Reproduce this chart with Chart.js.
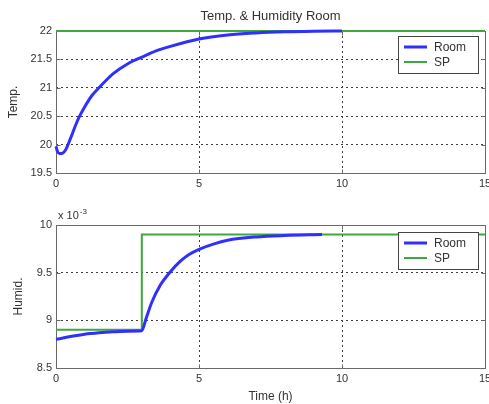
<!DOCTYPE html>
<html>
<head>
<meta charset="utf-8">
<script src="https://cdn.jsdelivr.net/npm/chart.js@4/dist/chart.umd.min.js"></script>
<style>
  html, body { margin: 0; padding: 0; background: #fff; overflow: hidden; }
  canvas { display: block; }
</style>
</head>
<body>
<canvas id="temp" width="491" height="200"></canvas>
<canvas id="humid" width="491" height="204"></canvas>
<script>
// Time axis (hours)
const xTicks = [0, 5, 10, 15];

// Room temperature response
const tempTime = [0, 0.05, 0.12, 0.2, 0.28, 0.36, 0.5, 0.75, 1.0, 1.25, 1.5, 2.0, 2.5, 3.0, 3.5, 4.0, 5.0, 6.0, 7.0, 8.0, 9.0, 10.0];
const tempRoom = [19.97, 19.88, 19.845, 19.845, 19.87, 19.93, 20.1, 20.42, 20.66, 20.86, 21.0, 21.25, 21.42, 21.54, 21.65, 21.73, 21.86, 21.93, 21.965, 21.985, 21.995, 22.0];
// Temperature set point
const tempSPTime = [0, 15];
const tempSP = [22, 22];
const tempYTicks = [19.5, 20, 20.5, 21, 21.5, 22];

// Room humidity response (x 10^-3)
const humTime = [0, 0.5, 1.0, 1.5, 2.0, 2.5, 3.0, 3.15, 3.35, 3.65, 4.0, 4.35, 4.65, 5.0, 5.5, 6.0, 7.0, 8.0, 9.3];
const humRoom = [8.80, 8.83, 8.855, 8.87, 8.88, 8.886, 8.89, 9.02, 9.19, 9.37, 9.51, 9.62, 9.69, 9.745, 9.80, 9.84, 9.875, 9.89, 9.90];
// Humidity set point (step at t = 3 h)
const humSPTime = [0, 3, 3, 15];
const humSP = [8.9, 8.9, 9.9, 9.9];
const humYTicks = [8.5, 9, 9.5, 10];

const seriesLabels = ['Room', 'SP'];
const BLUE = '#2f2fff';
const GREEN = '#3da83d';
const AXIS = '#6a6a6a';
const GRID = '#3c3c3c';
const TEXT = '#333333';
const FAMILY = 'Liberation Sans, Arial, sans-serif';
const TICK_FONT = { family: FAMILY, size: 11 };
const LABEL_FONT = { family: FAMILY, size: 12 };

const pts = (xs, ys) => xs.map((x, i) => ({ x, y: ys[i] }));
const fmt = v => String(Number(v));

// Frame with inward tick marks around the plot area
const framePlugin = {
  id: 'frame',
  beforeDatasetsDraw(chart) {
    const { ctx, chartArea: a, scales } = chart;
    const L = Math.round(a.left) + 0.5, R = Math.round(a.right) + 0.5;
    const T = Math.round(a.top) + 0.5, B = Math.round(a.bottom) + 0.5;
    ctx.save();
    ctx.strokeStyle = AXIS;
    ctx.lineWidth = 1;
    ctx.strokeRect(L, T, R - L, B - T);
    ctx.beginPath();
    scales.x.ticks.forEach(t => {
      const px = Math.round(scales.x.getPixelForValue(t.value)) + 0.5;
      ctx.moveTo(px, B); ctx.lineTo(px, B - 4);
      ctx.moveTo(px, T); ctx.lineTo(px, T + 4);
    });
    scales.y.ticks.forEach(t => {
      const py = Math.round(scales.y.getPixelForValue(t.value)) + 0.5;
      ctx.moveTo(L, py); ctx.lineTo(L + 4, py);
      ctx.moveTo(R, py); ctx.lineTo(R - 4, py);
    });
    ctx.stroke();
    ctx.restore();
  },
  // heading over the plot, boxed legend in the upper-right corner and the axis exponent
  afterDatasetsDraw(chart, args, opts) {
    const { ctx, chartArea: a } = chart;
    ctx.save();
    if (opts.heading) {
      ctx.fillStyle = TEXT;
      ctx.font = '13px ' + FAMILY;
      ctx.textAlign = 'center';
      ctx.textBaseline = 'middle';
      ctx.fillText(opts.heading, (a.left + a.right) / 2, 16);
      ctx.textAlign = 'left';
    }
    const w = 80, h = 37;
    const lx = Math.round(a.right) - 7 - w, ly = Math.round(a.top) + opts.legendTop;
    ctx.fillStyle = '#fff';
    ctx.fillRect(lx, ly, w, h);
    ctx.strokeStyle = '#444';
    ctx.lineWidth = 1;
    ctx.strokeRect(lx + 0.5, ly + 0.5, w, h);
    ctx.font = '12px ' + FAMILY;
    ctx.textBaseline = 'middle';
    chart.data.datasets.forEach((ds, i) => {
      const cy = ly + 11 + i * 15;
      ctx.strokeStyle = ds.borderColor;
      ctx.lineWidth = ds.legendWidth;
      ctx.beginPath();
      ctx.moveTo(lx + 6, cy);
      ctx.lineTo(lx + 29, cy);
      ctx.stroke();
      ctx.fillStyle = TEXT;
      ctx.fillText(ds.label, lx + 36, cy + 1);
    });
    if (opts.exponent) {
      ctx.fillStyle = TEXT;
      ctx.textBaseline = 'alphabetic';
      ctx.font = '11px ' + FAMILY;
      const ex = Math.round(a.left) + 2, ey = Math.round(a.top) - 6;
      ctx.fillText('x 10', ex, ey);
      const w10 = ctx.measureText('x 10').width;
      ctx.font = '8px ' + FAMILY;
      ctx.fillText(opts.exponent, ex + w10 + 1, ey - 5);
    }
    ctx.restore();
  }
};

function makeChart(id, cfg) {
  return new Chart(document.getElementById(id), {
    type: 'line',
    data: {
      datasets: [
        { label: seriesLabels[0], data: pts(cfg.roomX, cfg.roomY), borderColor: BLUE, borderWidth: 3,
          legendWidth: 3, pointRadius: 0, cubicInterpolationMode: 'monotone', order: 1, clip: 3 },
        { label: seriesLabels[1], data: pts(cfg.spX, cfg.spY), borderColor: GREEN, borderWidth: 2,
          legendWidth: 2, pointRadius: 0, tension: 0, order: 2, clip: 3 }
      ]
    },
    options: {
      responsive: false,
      animation: false,
      events: [],
      layout: { padding: { top: cfg.padTop, right: 6, left: 0, bottom: 0 } },
      plugins: {
        legend: { display: false },
        tooltip: { enabled: false },
        title: { display: false },
        frame: { legendTop: cfg.legendTop, exponent: cfg.exponent, heading: cfg.heading }
      },
      scales: {
        x: {
          type: 'linear', min: 0, max: 15,
          afterBuildTicks: s => { s.ticks = xTicks.map(v => ({ value: v })); },
          afterFit: s => { s.height = cfg.xHeight; s.paddingLeft = 0; s.paddingRight = 0; },
          ticks: { color: TEXT, font: TICK_FONT, padding: 4, maxRotation: 0, callback: fmt },
          grid: { color: GRID, lineWidth: 1, drawTicks: false },
          border: { display: false, dash: [2, 3] },
          title: cfg.xTitle ? { display: true, text: cfg.xTitle, color: TEXT, font: LABEL_FONT, padding: { top: 2, bottom: 0 } } : { display: false }
        },
        y: {
          type: 'linear', min: cfg.yMin, max: cfg.yMax,
          afterBuildTicks: s => { s.ticks = cfg.yTicks.map(v => ({ value: v })); },
          afterFit: s => { s.width = 56; },
          ticks: { color: TEXT, font: TICK_FONT, padding: 4, callback: fmt },
          grid: { color: GRID, lineWidth: 1, drawTicks: false },
          border: { display: false, dash: [2, 3] },
          title: { display: true, text: cfg.yTitle, color: TEXT, font: LABEL_FONT, padding: { top: cfg.yTitlePad, bottom: 0 } }
        }
      }
    },
    plugins: [framePlugin]
  });
}

makeChart('temp', {
  roomX: tempTime, roomY: tempRoom, spX: tempSPTime, spY: tempSP,
  yMin: 19.5, yMax: 22, yTicks: tempYTicks, yTitle: 'Temp.', yTitlePad: 6,
  heading: 'Temp. & Humidity Room', padTop: 31, xHeight: 27, legendTop: 5
});

makeChart('humid', {
  roomX: humTime, roomY: humRoom, spX: humSPTime, spY: humSP,
  yMin: 8.5, yMax: 10, yTicks: humYTicks, yTitle: 'Humid.', yTitlePad: 11,
  padTop: 25, xHeight: 36, legendTop: 7, xTitle: 'Time (h)', exponent: '-3'
});
</script>
</body>
</html>
